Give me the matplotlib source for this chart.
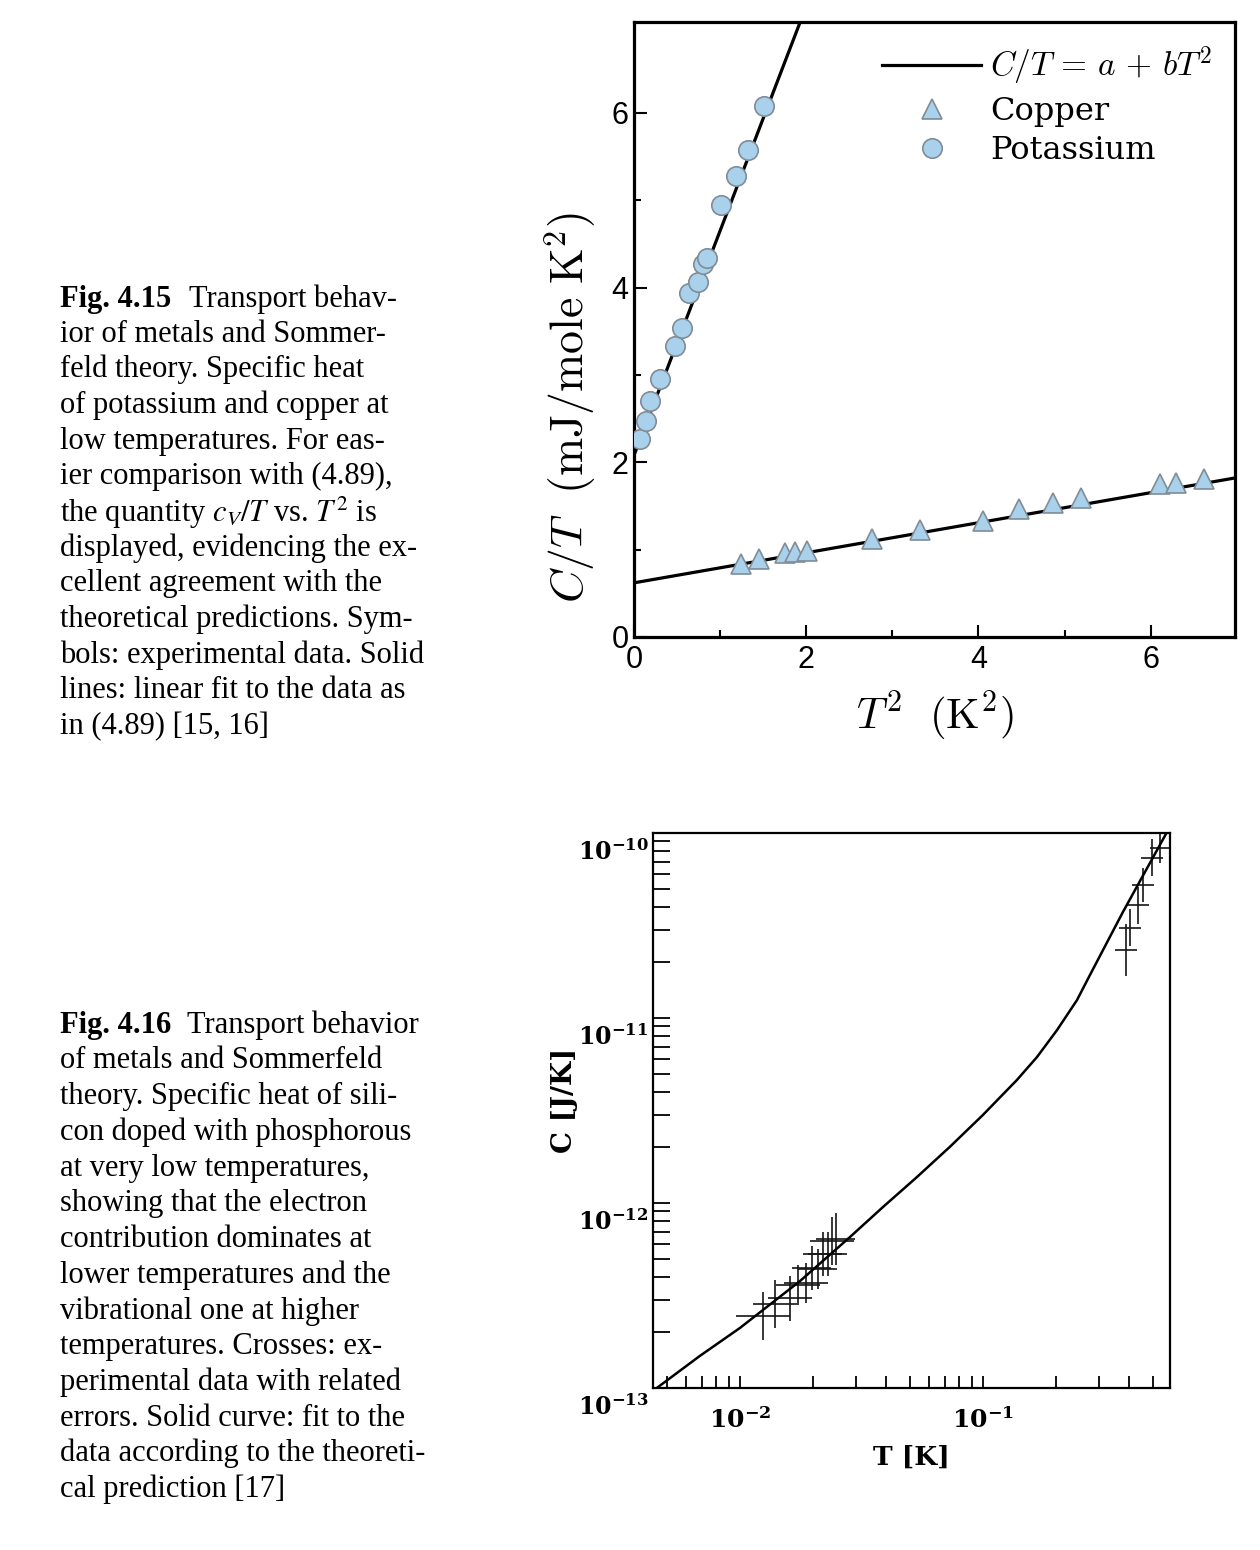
import numpy as np
import matplotlib
matplotlib.use("Agg")
import matplotlib.pyplot as plt
from matplotlib.lines import Line2D
from matplotlib.ticker import FixedLocator, LogLocator, NullFormatter
from matplotlib.transforms import ScaledTranslation

# ---- Fig. 4.15 : C/T vs T^2 (mJ/mole K^2) ----
k_T2 = [0.07, 0.14, 0.19, 0.30, 0.48, 0.56, 0.64, 0.74, 0.80, 0.85, 1.01, 1.18, 1.32, 1.51]
k_CT = [2.27, 2.47, 2.70, 2.95, 3.33, 3.54, 3.94, 4.06, 4.27, 4.34, 4.94, 5.28, 5.57, 6.08]
cu_T2 = [1.24, 1.45, 1.75, 1.87, 2.01, 2.76, 3.32, 4.05, 4.47, 4.87, 5.19, 6.11, 6.30, 6.62]
cu_CT = [0.83, 0.89, 0.96, 0.97, 0.99, 1.12, 1.22, 1.33, 1.47, 1.53, 1.59, 1.75, 1.76, 1.81]
# linear fits C/T = a + b T^2
k_a, k_b = 2.08, 2.57
cu_a, cu_b = 0.62, 0.172
fit_T2 = [0.0, 7.0]

# ---- Fig. 4.16 : C vs T, Si:P ----
curve_T = [0.00455, 0.00684, 0.0100, 0.0177, 0.0284, 0.0388, 0.0535, 0.0731,
           0.100, 0.138, 0.167, 0.202, 0.244, 0.276, 0.377, 0.572]
curve_C = [1.00e-13, 1.49e-13, 2.11e-13, 3.79e-13, 6.55e-13, 9.51e-13, 1.38e-12, 2.01e-12,
           2.99e-12, 4.62e-12, 6.15e-12, 8.61e-12, 1.25e-11, 1.71e-11, 3.74e-11, 1.01e-10]
meas_T = [0.01244, 0.01393, 0.01606, 0.01733, 0.01868, 0.01978, 0.02094, 0.02196, 0.02302,
          0.02391, 0.02483, 0.3878, 0.4027, 0.4345, 0.4555, 0.4962, 0.5351]
meas_C = [2.45e-13, 2.85e-13, 3.05e-13, 3.60e-13, 3.70e-13, 4.45e-13, 4.40e-13, 5.30e-13, 5.30e-13,
          6.20e-13, 6.40e-13, 2.33e-11, 3.07e-11, 4.08e-11, 5.24e-11, 7.33e-11, 8.30e-11]
# error bar half widths, in decades
meas_dT = [0.11, 0.09, 0.09, 0.09, 0.09, 0.08, 0.08, 0.08, 0.08, 0.09, 0.08,
           0.045, 0.045, 0.045, 0.045, 0.045, 0.04]
meas_dC = [0.13, 0.13, 0.12, 0.11, 0.11, 0.12, 0.11, 0.12, 0.12, 0.13, 0.14,
           0.14, 0.10, 0.10, 0.09, 0.10, 0.08]

cap1 = ["ior of metals and Sommer-",
        "feld theory. Specific heat",
        "of potassium and copper at",
        "low temperatures. For eas-",
        "ier comparison with (4.89),",
        "the quantity $c_V/T$ vs. $T^2$ is",
        "displayed, evidencing the ex-",
        "cellent agreement with the",
        "theoretical predictions. Sym-",
        "bols: experimental data. Solid",
        "lines: linear fit to the data as",
        "in (4.89) [15, 16]"]
cap2 = ["of metals and Sommerfeld",
        "theory. Specific heat of sili-",
        "con doped with phosphorous",
        "at very low temperatures,",
        "showing that the electron",
        "contribution dominates at",
        "lower temperatures and the",
        "vibrational one at higher",
        "temperatures. Crosses: ex-",
        "perimental data with related",
        "errors. Solid curve: fit to the",
        "data according to the theoreti-",
        "cal prediction [17]"]

W, H = 1260, 1550
fig = plt.figure(figsize=(W / 100, H / 100), dpi=100)

def px(x, y):
    return x / W, 1 - y / H

cap_font = dict(family="Liberation Serif", fontsize=22, va="center", ha="left")

# captions
fig.text(*px(60, 299), "Fig. 4.15", fontweight="bold", **cap_font)
fig.text(*px(189, 299), "Transport behav-", **cap_font)
for i, line in enumerate(cap1):
    fig.text(*px(60, 334 + i * 35.7), line, math_fontfamily="stix", **cap_font)

fig.text(*px(60, 1025), "Fig. 4.16", fontweight="bold", **cap_font)
fig.text(*px(187, 1025), "Transport behavior", **cap_font)
for i, line in enumerate(cap2):
    fig.text(*px(60, 1061 + i * 35.7), line, math_fontfamily="stix", **cap_font)

# ---------------- top panel ----------------
ax1 = fig.add_axes([634 / W, 1 - 637 / H, (1235 - 634) / W, (637 - 22) / H])
blue = "#a9d1ec"
edge = "#808c96"
ax1.plot(fit_T2, [k_a + k_b * t for t in fit_T2], color="black", lw=2.3, zorder=2)
ax1.plot(fit_T2, [cu_a + cu_b * t for t in fit_T2], color="black", lw=2.3, zorder=2)
ax1.plot(cu_T2, cu_CT, ls="none", marker="^", ms=14, mfc=blue, mec=edge, mew=1.2, zorder=3)
ax1.plot(k_T2, k_CT, ls="none", marker="o", ms=14, mfc=blue, mec=edge, mew=1.2, zorder=3)
ax1.set_xlim(0, 6.98)
ax1.set_ylim(0, 7.04)
ax1.xaxis.set_major_locator(FixedLocator([0, 2, 4, 6]))
ax1.yaxis.set_major_locator(FixedLocator([0, 2, 4, 6]))
ax1.xaxis.set_minor_locator(FixedLocator([1, 3, 5]))
ax1.yaxis.set_minor_locator(FixedLocator([1, 3, 5]))
ax1.tick_params(which="both", direction="in", width=1.5, labelsize=22)
ax1.tick_params(which="major", length=9)
ax1.tick_params(which="minor", length=5)
ax1.tick_params(axis="y", pad=4)
ax1.tick_params(axis="x", pad=6)
for lbl in ax1.get_xticklabels() + ax1.get_yticklabels():
    lbl.set_family("Liberation Sans")
for s in ax1.spines.values():
    s.set_linewidth(2.3)
ax1.set_xlabel(r"$T^2\ \ (\mathrm{K}^2)$", fontsize=31, math_fontfamily="cm", labelpad=10)
ax1.set_ylabel(r"$C/T\ \ (\mathrm{mJ/mole\ K}^2)$", fontsize=33, math_fontfamily="cm")
ax1.yaxis.set_label_coords(-0.06, 0.374)

handles = [Line2D([], [], color="black", lw=2.3),
           Line2D([], [], ls="none", marker="^", ms=14, mfc=blue, mec=edge, mew=1.2),
           Line2D([], [], ls="none", marker="o", ms=14, mfc=blue, mec=edge, mew=1.2)]
leg = ax1.legend(handles, [r"$C/T \,=\, a \,+\, bT^2$", "Copper", "Potassium"],
                 loc="upper right", frameon=False, handlelength=3.1, handletextpad=0.28,
                 labelspacing=0.25, borderaxespad=0.3,
                 prop={"family": "DejaVu Serif", "size": 23})
leg.get_texts()[0].set_math_fontfamily("cm")
leg.get_texts()[0].set_fontsize(24)

# ---------------- bottom panel ----------------
ax2 = fig.add_axes([653 / W, 1 - 1388 / H, (1170 - 653) / W, (1388 - 833) / H])
ax2.set_xscale("log")
ax2.set_yscale("log")
ax2.plot(curve_T, curve_C, color="black", lw=1.8, zorder=3)
T = np.array(meas_T)
C = np.array(meas_C)
dT = np.array(meas_dT)
dC = np.array(meas_dC)
ax2.errorbar(T, C, xerr=[T - T / 10 ** dT, T * 10 ** dT - T],
             yerr=[C - C / 10 ** dC, C * 10 ** dC - C],
             fmt="none", ecolor="#151515", elinewidth=1.2, capsize=0, zorder=2)
ax2.set_xlim(0.00439, 0.589)
ax2.set_ylim(1e-13, 1e-10)
ax2.yaxis.set_major_locator(FixedLocator([1e-13, 1e-12, 1e-11, 1e-10]))
ax2.set_yticklabels([r"$\mathbf{10^{-13}}$", r"$\mathbf{10^{-12}}$",
                     r"$\mathbf{10^{-11}}$", r"$\mathbf{10^{-10}}$"])
ax2.xaxis.set_major_locator(FixedLocator([1e-2, 1e-1]))
ax2.set_xticklabels([r"$\mathbf{10^{-2}}$", r"$\mathbf{10^{-1}}$"])
ax2.xaxis.set_minor_locator(LogLocator(base=10, subs=np.arange(2, 10)))
ax2.yaxis.set_minor_locator(LogLocator(base=10, subs=np.arange(2, 10)))
ax2.xaxis.set_minor_formatter(NullFormatter())
ax2.yaxis.set_minor_formatter(NullFormatter())
ax2.tick_params(which="both", direction="in", width=1.3)
ax2.tick_params(axis="y", which="both", length=12, labelsize=17, pad=3)
ax2.tick_params(axis="x", which="both", length=9, pad=14, labelsize=18)
shift = ScaledTranslation(0, -12 / 72, fig.dpi_scale_trans)
for lbl in ax2.get_yticklabels():
    lbl.set_transform(lbl.get_transform() + shift)
for lbl in ax2.get_xticklabels() + ax2.get_yticklabels():
    lbl.set_math_fontfamily("dejavuserif")
for s in ax2.spines.values():
    s.set_linewidth(1.6)
ax2.set_xlabel("T [K]", fontsize=19, fontweight="bold", family="DejaVu Serif", labelpad=8)
ax2.set_ylabel("C [J/K]", fontsize=20, fontweight="bold", family="DejaVu Serif")
ax2.yaxis.set_label_coords(-0.145, 0.519)

fig.savefig("out.png", dpi=100)
